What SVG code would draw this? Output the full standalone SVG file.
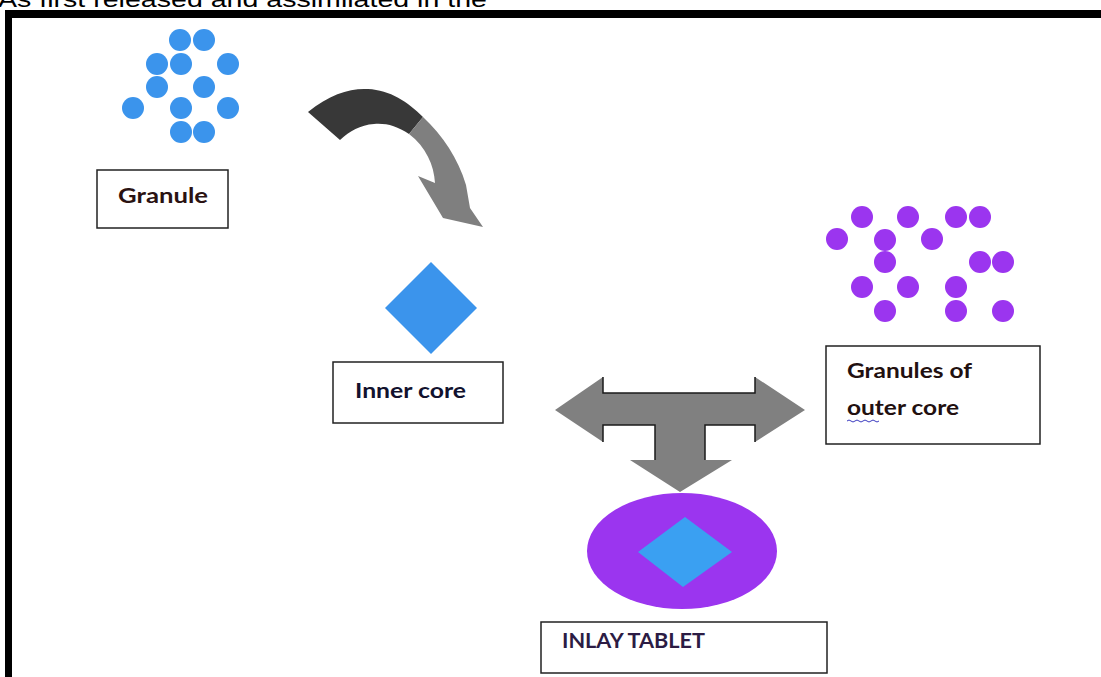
<svg xmlns="http://www.w3.org/2000/svg" width="1101" height="677" viewBox="0 0 1101 677">
<style>
.gb{fill:#3b94ec}
.gp{fill:#9b35ef}
.box{fill:#fff;stroke:#222;stroke-width:1.5}
.lbl{font-family:Lato,"Open Sans","Liberation Sans",sans-serif;font-weight:bold;font-size:20px}
.edge{stroke:#1a1a1a;stroke-width:1.5;fill:none}
</style>
<rect width="1101" height="677" fill="#fff"/>
<text x="-2" y="7" font-family="'Liberation Sans',Arial,sans-serif" font-size="22" fill="#000" textLength="489" lengthAdjust="spacingAndGlyphs">As first released and assimilated in the</text>
<rect x="5" y="10" width="1096" height="8" fill="#000"/>
<rect x="5" y="10" width="7" height="667" fill="#000"/>

<g id="granule-dots">
<circle class="gb" cx="180" cy="40" r="11"/><circle class="gb" cx="204" cy="40" r="11"/>
<circle class="gb" cx="157" cy="64" r="11"/><circle class="gb" cx="181" cy="64" r="11"/><circle class="gb" cx="228" cy="64" r="11"/>
<circle class="gb" cx="157" cy="87" r="11"/><circle class="gb" cx="204" cy="87" r="11"/>
<circle class="gb" cx="133" cy="108" r="11"/><circle class="gb" cx="181" cy="108" r="11"/><circle class="gb" cx="228" cy="108" r="11"/>
<circle class="gb" cx="181" cy="132" r="11"/><circle class="gb" cx="204" cy="132" r="11"/>
</g>
<g id="granule">
<rect class="box" x="97" y="170" width="131" height="58"/>
<text class="lbl" x="118" y="203" fill="#2a1212" textLength="90" lengthAdjust="spacingAndGlyphs">Granule</text>
</g>

<g id="inner-core">
<polygon class="gb" points="431,262 477,308 431,354 385,308"/>
<rect class="box" x="333" y="362" width="170" height="61"/>
<text class="lbl" x="355" y="398" fill="#12122e" textLength="111" lengthAdjust="spacingAndGlyphs">Inner core</text>
</g>

<g id="outer-dots">
<circle class="gp" cx="862" cy="217" r="11"/><circle class="gp" cx="908" cy="217" r="11"/><circle class="gp" cx="956" cy="217" r="11"/><circle class="gp" cx="980" cy="217" r="11"/>
<circle class="gp" cx="837" cy="239" r="11"/><circle class="gp" cx="885" cy="240" r="11"/><circle class="gp" cx="932" cy="239" r="11"/>
<circle class="gp" cx="885" cy="262" r="11"/><circle class="gp" cx="980" cy="262" r="11"/><circle class="gp" cx="1003" cy="262" r="11"/>
<circle class="gp" cx="862" cy="287" r="11"/><circle class="gp" cx="908" cy="287" r="11"/><circle class="gp" cx="956" cy="287" r="11"/>
<circle class="gp" cx="885" cy="311" r="11"/><circle class="gp" cx="956" cy="311" r="11"/><circle class="gp" cx="1003" cy="311" r="11"/>
</g>
<g id="outer-core">
<rect class="box" x="826" y="346" width="214" height="98"/>
<text class="lbl" x="847" y="378" fill="#221010" textLength="125" lengthAdjust="spacingAndGlyphs">Granules of</text>
<text class="lbl" x="847" y="415" fill="#221010" textLength="112" lengthAdjust="spacingAndGlyphs">outer core</text>
<path d="M847,421 q2,-2 4,0 t4,0 t4,0 t4,0 t4,0 t4,0 t4,0 t4,0" fill="none" stroke="#3a3ac0" stroke-width="1"/>
</g>

<g id="inlay-tablet">
<ellipse cx="682" cy="551" rx="95" ry="58" fill="#9b35ef"/>
<polygon points="685,517 732,552 683,587 638,552" fill="#3aa0f2"/>
<rect class="box" x="541" y="622" width="286" height="51"/>
<text class="lbl" x="562" y="648" fill="#2c1c44" font-weight="600" textLength="143" lengthAdjust="spacingAndGlyphs">INLAY TABLET</text>
</g>

<g id="connectors">
<path d="M308,112 C330,94 350,88 368,89 C390,90 408,102 423,117 L409,134 C397,126 386,123 374,124 C360,125 350,131 340,140 Z" fill="#383838"/>
<path d="M423,117 C443,136 458,158 466,185 L470,208 L483,227 L443,218 L418,176 L435,183 C434,165 426,147 409,134 Z" fill="#7f7f7f"/>
<path d="M555,410 L603,377 L603,393 L755,393 L755,377 L805,410 L755,442 L755,425 L705,425 L705,460 L732,460 L680,492 L630,460 L655,460 L655,425 L603,425 L603,442 Z" fill="#808080"/>
<path class="edge" d="M603,377 L603,393 L755,393 L755,377"/>
<path class="edge" d="M603,442 L603,425 L655,425 L655,460"/>
<path class="edge" d="M705,460 L705,425 L755,425 L755,442"/>
</g>
</svg>
